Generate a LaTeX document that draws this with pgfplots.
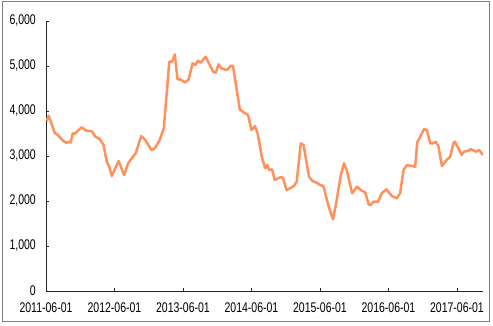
\documentclass[border=0pt]{standalone}
\usepackage{pgfplots}
\pgfplotsset{compat=1.18}
\usepackage{fontspec}
\setmainfont[FakeStretch=0.75]{Liberation Sans}
\definecolor{lineor}{RGB}{255,145,92}
\definecolor{framegray}{RGB}{128,128,128}
\begin{document}
\begin{tikzpicture}[x=1pt,y=1pt]
\useasboundingbox (-46,-35) rectangle (447,291);
\draw[framegray, line width=0.9pt] (-44,-30) rectangle (443,290);
\begin{axis}[
  at={(0,0)}, anchor=south west,
  scale only axis, width=437pt, height=270pt,
  xmin=0, xmax=6.38, ymin=0, ymax=6000,
  axis x line*=bottom, axis y line*=left,
  axis line style={line width=0.8pt, black!85},
  xtick={0,1,2,3,4,5,6},
  xticklabels={2011-06-01,2012-06-01,2013-06-01,2014-06-01,2015-06-01,2016-06-01,2017-06-01},
  ytick={0,1000,2000,3000,4000,5000,6000},
  tick align=inside, major tick length=3pt,
  tick style={black!85, line width=0.7pt},
  /pgf/number format/assume math mode=true,
  /pgf/number format/1000 sep={,},
  scaled y ticks=false,
  tick label style={font=\fontsize{14}{15}\selectfont, black},
  yticklabel style={inner sep=0pt, xshift=-10pt},
  xticklabel style={inner sep=0pt, yshift=-12pt},
]
\addplot[lineor, line width=2.5pt, line join=round] coordinates {
(0.01,3784) (0.04,3896) (0.13,3504) (0.16,3482) (0.25,3340) (0.29,3296)
(0.35,3318) (0.36,3296) (0.39,3504) (0.42,3496) (0.52,3637) (0.59,3562)
(0.67,3548) (0.72,3429) (0.78,3384) (0.84,3244) (0.89,2851) (0.92,2784)
(0.96,2556) (1.06,2889) (1.14,2578) (1.20,2837) (1.25,2948) (1.31,3060)
(1.39,3444) (1.45,3356) (1.54,3133) (1.59,3171) (1.66,3356) (1.72,3615)
(1.80,5096) (1.84,5096) (1.88,5259) (1.92,4704) (1.96,4704) (2.03,4637)
(2.08,4689) (2.14,5059) (2.18,5022) (2.22,5118) (2.26,5074) (2.33,5207)
(2.44,4874) (2.48,4852) (2.52,5037) (2.56,4948) (2.64,4911) (2.70,5007)
(2.73,5000) (2.83,4030) (2.91,3948) (2.95,3911) (3.00,3578) (3.05,3667)
(3.09,3504) (3.15,2985) (3.20,2726) (3.23,2800) (3.26,2689) (3.30,2704)
(3.34,2467) (3.42,2526) (3.46,2519) (3.51,2244) (3.56,2281) (3.62,2333)
(3.66,2429) (3.72,3281) (3.76,3244) (3.84,2541) (3.89,2444) (3.95,2407)
(4.00,2356) (4.05,2333) (4.12,1911) (4.19,1593) (4.24,1985) (4.30,2541)
(4.35,2837) (4.39,2689) (4.47,2170) (4.54,2318) (4.61,2230) (4.66,2193)
(4.71,1926) (4.74,1911) (4.78,1985) (4.85,1985) (4.90,2170) (4.97,2259)
(5.05,2111) (5.12,2059) (5.17,2170) (5.22,2689) (5.27,2800) (5.39,2763)
(5.42,3304) (5.52,3600) (5.56,3578) (5.61,3281) (5.65,3281) (5.69,3318)
(5.73,3207) (5.78,2778) (5.85,2911) (5.90,2985) (5.95,3296) (5.97,3318)
(6.07,3022) (6.10,3096) (6.17,3118) (6.20,3155) (6.28,3096) (6.32,3133)
(6.36,3060) (6.38,3022)
};
\end{axis}
\end{tikzpicture}
\end{document}
